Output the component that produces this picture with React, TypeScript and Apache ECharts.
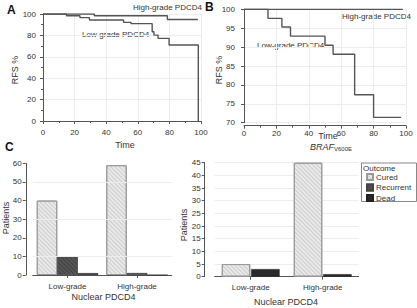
import React, { useEffect, useRef } from "react";
import * as echarts from "echarts";

// Kaplan-Meier relapse-free survival curves (time, RFS %)
const highGradeA: [number, number][] = [[0, 100], [32.5, 98.3], [78.7, 94.8], [98, 94.8]];
const lowGradeA: [number, number][] = [
  [0, 100], [14.9, 98.4], [23.4, 96.6], [29.4, 94.4], [51, 92.2], [55.7, 91.0],
  [69.1, 83.4], [70.2, 80.3], [72.8, 77.2], [79.8, 71.0], [98.3, 0],
];
const highGradeB: [number, number][] = [[0, 100], [98, 100]];
const lowGradeB: [number, number][] = [
  [0, 100], [14.8, 97.6], [23.4, 95.3], [28.7, 92.9], [50, 90.5], [55, 88.1],
  [68.3, 77.4], [80, 71.4], [97, 71.4],
];

// Outcome counts by nuclear PDCD4 grade
const gradeCategories = ["Low-grade", "High-grade"];
const curedLeft = [40, 59];
const recurrentLeft = [10, 1];
const deadLeft = [1, 0];
const curedRight = [5, 45];
const deadRight = [3, 1];

const FONT = "Liberation Sans, Arial, sans-serif";
const AXIS = "#555";
const LABEL = "#333";
const GRIDLINE = "#ececec";

const hatch = (color: string) => ({
  symbol: "rect",
  symbolSize: 1,
  dashArrayX: [1, 0],
  dashArrayY: [1, 2],
  rotation: Math.PI / 4,
  color,
});

const curedStyle = { color: "#e9e9e9", borderColor: "#9a9a9a", borderWidth: 1, decal: hatch("rgba(0,0,0,0.12)") };
const recurrentStyle = { color: "#565656", borderColor: "#444", borderWidth: 0.5, decal: hatch("rgba(0,0,0,0.25)") };
const deadStyle = { color: "#2a2a2a", borderColor: "#222", borderWidth: 0.5 };

const valueAxis = (gridIndex: number, min: number, max: number, interval: number, offset: number, minor: boolean, split: boolean) => ({
  type: "value" as const,
  gridIndex,
  min,
  max,
  interval,
  offset,
  axisLine: { show: true, lineStyle: { color: AXIS, width: 1 } },
  axisTick: { show: true, length: 3, lineStyle: { color: AXIS } },
  minorTick: { show: minor, splitNumber: 2, length: 2, lineStyle: { color: AXIS } },
  axisLabel: { fontSize: 8, color: LABEL, fontFamily: FONT, margin: 4 },
  splitLine: { show: split, lineStyle: { color: GRIDLINE, width: 1 } },
});

const catAxis = (gridIndex: number) => ({
  type: "category" as const,
  gridIndex,
  data: gradeCategories,
  offset: 2,
  axisLine: { show: true, lineStyle: { color: AXIS } },
  axisTick: { show: true, alignWithLabel: true, length: 3, lineStyle: { color: AXIS } },
  axisLabel: { fontSize: 8, color: LABEL, fontFamily: FONT, margin: 5 },
  splitLine: { show: false },
});

const stepLine = (name: string, data: [number, number][], idx: number) => ({
  type: "line" as const,
  name,
  data,
  xAxisIndex: idx,
  yAxisIndex: idx,
  step: "end" as const,
  symbol: "none",
  lineStyle: { color: "#555", width: 1.4 },
});

const txt = (x: number, y: number, text: string, extra: Record<string, unknown> = {}) => ({
  type: "text" as const,
  x,
  y,
  style: { text, fontSize: 8, fill: LABEL, fontFamily: FONT, ...extra },
});

// vertical (bottom-to-top) axis title centred at (x, y)
const vtxt = (x: number, y: number, text: string) => ({
  type: "text" as const,
  x,
  y,
  rotation: Math.PI / 2,
  style: { text, fontSize: 9, fill: LABEL, fontFamily: FONT, align: "center", verticalAlign: "middle" },
});

const gridBox = (left: number, top: number, width: number, height: number) => ({
  left,
  top,
  width,
  height,
  containLabel: false,
  outerBoundsMode: "none",
});

export default function App() {
  const ref = useRef<HTMLDivElement>(null);

  useEffect(() => {
    if (!ref.current) return;
    const chart = echarts.init(ref.current, undefined, { renderer: "svg" });
    chart.setOption({
      animation: false,
      backgroundColor: "#fff",
      textStyle: { fontFamily: FONT },
      grid: [
        gridBox(43, 14, 158, 107),
        gridBox(244, 9.3, 162, 113.4),
        gridBox(32.75, 163.3, 139, 111.7),
        gridBox(214.7, 162.7, 144, 114),
      ],
      xAxis: [
        valueAxis(0, 0, 100, 20, 3, true, true),
        valueAxis(1, 0, 100, 20, 3, true, true),
        catAxis(2),
        catAxis(3),
      ],
      yAxis: [
        valueAxis(0, 0, 100, 20, 3, true, true),
        valueAxis(1, 70, 100, 5, 5, false, true),
        valueAxis(2, 0, 60, 10, 7, false, false),
        valueAxis(3, 0, 45, 5, 10, false, true),
      ],
      legend: {
        orient: "vertical",
        left: 366,
        top: 173,
        itemWidth: 6,
        itemHeight: 6,
        itemGap: 2.5,
        padding: 0,
        data: ["Cured", "Recurrent", "Dead"],
        textStyle: { fontSize: 8, color: LABEL, fontFamily: FONT, padding: [0, 0, 0, -2] },
        icon: "rect",
      },
      series: [
        stepLine("High-grade PDCD4", highGradeA, 0),
        stepLine("Low-grade PDCD4", lowGradeA, 0),
        stepLine("High-grade PDCD4", highGradeB, 1),
        stepLine("Low-grade PDCD4", lowGradeB, 1),
        {
          type: "bar", name: "Cured", data: curedLeft, xAxisIndex: 2, yAxisIndex: 2,
          barWidth: 20.5, barGap: "0%", itemStyle: curedStyle,
          markLine: {
            silent: true, symbol: "none", label: { show: false },
            lineStyle: { color: GRIDLINE, type: "solid", width: 1 },
            data: [{ yAxis: 10 }, { yAxis: 30 }, { yAxis: 50 }],
          },
        },
        { type: "bar", name: "Recurrent", data: recurrentLeft, xAxisIndex: 2, yAxisIndex: 2, barWidth: 20.5, barGap: "0%", itemStyle: recurrentStyle },
        { type: "bar", name: "Dead", data: deadLeft, xAxisIndex: 2, yAxisIndex: 2, barWidth: 20.5, barGap: "0%", itemStyle: deadStyle },
        { type: "bar", name: "Cured", data: curedRight, xAxisIndex: 3, yAxisIndex: 3, barWidth: 28.5, barGap: "3%", itemStyle: curedStyle },
        { type: "bar", name: "Dead", data: deadRight, xAxisIndex: 3, yAxisIndex: 3, barWidth: 28.5, barGap: "3%", itemStyle: deadStyle },
      ],
      graphic: [
        // panel letters
        txt(7, 4, "A", { fontSize: 12, fontWeight: "bold", fill: "#111" }),
        txt(205, 1, "B", { fontSize: 12, fontWeight: "bold", fill: "#111" }),
        txt(5, 141, "C", { fontSize: 12, fontWeight: "bold", fill: "#111" }),
        // curve labels
        txt(133, 3, "High-grade PDCD4"),
        txt(82, 30, "Low-grade PDCD4"),
        txt(342, 12, "High-grade PDCD4"),
        txt(257, 41, "Low-grade PDCD4"),
        // axis titles
        txt(125, 140, "Time", { fontSize: 9, align: "center" }),
        txt(328, 131, "Time", { fontSize: 9, align: "center" }),
        {
          type: "text",
          x: 331,
          y: 141,
          style: {
            text: "{i|BRAF}{s|V600E}",
            align: "center",
            fontFamily: FONT,
            rich: {
              i: { fontSize: 9, fontStyle: "italic", fill: LABEL, fontFamily: FONT },
              s: { fontSize: 6, fill: LABEL, fontFamily: FONT, padding: [5, 0, 0, 0] },
            },
          },
        },
        vtxt(15, 70, "RFS %"),
        vtxt(218.5, 70, "RFS %"),
        vtxt(5.5, 218, "Patients"),
        vtxt(183.5, 225, "Patients"),
        txt(103.5, 292, "Nuclear PDCD4", { fontSize: 9, align: "center" }),
        txt(286, 297, "Nuclear PDCD4", { fontSize: 9, align: "center" }),
        // legend frame and heading
        {
          type: "rect",
          shape: { x: 361.5, y: 163, width: 55, height: 38.5 },
          style: { fill: "none", stroke: "#888", lineWidth: 1 },
          z: 0,
        },
        txt(363, 164.5, "Outcome"),
      ],
    });
    return () => chart.dispose();
  }, []);

  return (
    <div
      ref={ref}
      style={{ position: "fixed", left: 0, top: 0, width: 417, height: 308 }}
    />
  );
}
